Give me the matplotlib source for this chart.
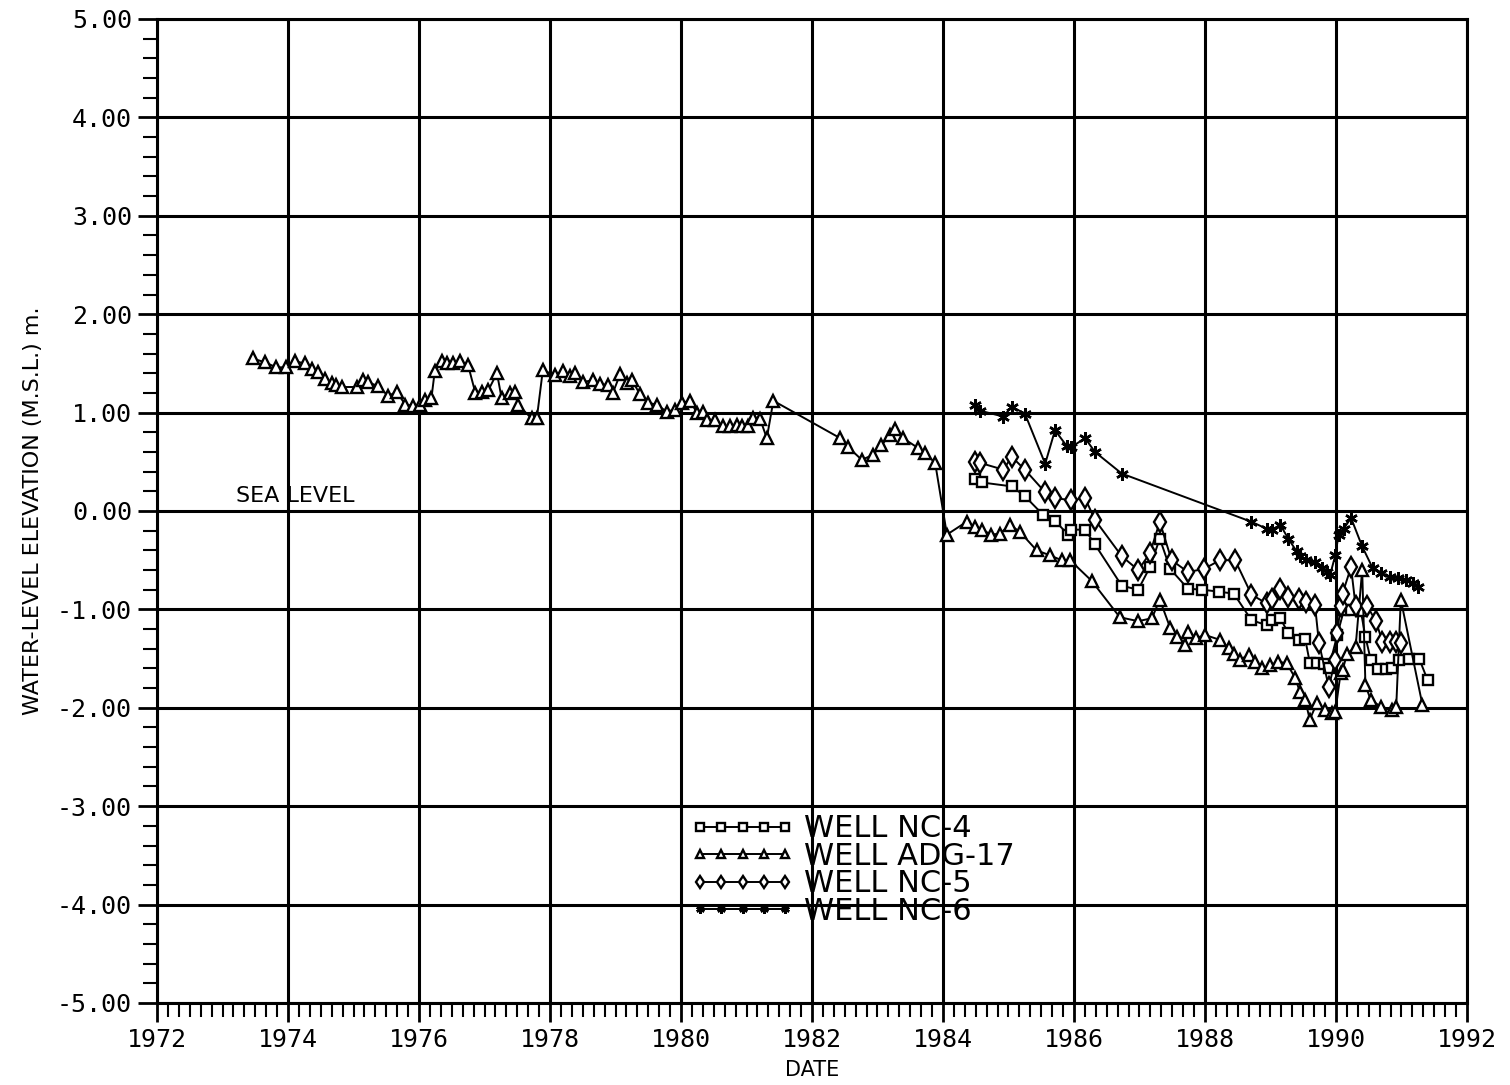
import numpy as np
import matplotlib
matplotlib.use("Agg")
import matplotlib.pyplot as plt
from matplotlib.ticker import MultipleLocator, FuncFormatter

# water levels (m, relative to mean sea level), dates in decimal years
adg17_t = [1973.46, 1973.65, 1973.82, 1973.97, 1974.11, 1974.26, 1974.36, 1974.46, 1974.56, 1974.67,
           1974.74, 1974.82, 1975.05, 1975.15, 1975.22, 1975.37, 1975.53, 1975.66, 1975.79, 1975.91,
           1976.01, 1976.09, 1976.19, 1976.24, 1976.35, 1976.42, 1976.52, 1976.63, 1976.75, 1976.86,
           1976.96, 1977.06, 1977.19, 1977.26, 1977.39, 1977.46, 1977.51, 1977.72, 1977.80, 1977.89,
           1978.08, 1978.20, 1978.30, 1978.38, 1978.50, 1978.66, 1978.76, 1978.89, 1978.96, 1979.07,
           1979.17, 1979.25, 1979.37, 1979.50, 1979.63, 1979.78, 1979.91, 1980.01, 1980.14, 1980.24,
           1980.34, 1980.39, 1980.52, 1980.64, 1980.75, 1980.85, 1980.93, 1981.02, 1981.10, 1981.21,
           1981.31, 1981.41, 1982.43, 1982.55, 1982.76, 1982.93, 1983.06, 1983.19, 1983.27, 1983.39,
           1983.62, 1983.72, 1983.88, 1984.06, 1984.36, 1984.49, 1984.59, 1984.74, 1984.87, 1985.02,
           1985.17, 1985.43, 1985.63, 1985.81, 1985.94, 1986.27, 1986.70, 1986.98, 1987.19, 1987.31,
           1987.47, 1987.57, 1987.69, 1987.74, 1987.87, 1988.00, 1988.23, 1988.36, 1988.44, 1988.54,
           1988.67, 1988.77, 1988.87, 1988.99, 1989.12, 1989.25, 1989.38, 1989.45, 1989.53, 1989.60,
           1989.71, 1989.83, 1989.94, 1989.99, 1990.07, 1990.10, 1990.17, 1990.30, 1990.40, 1990.45,
           1990.53, 1990.69, 1990.86, 1990.92, 1990.99, 1991.32]
adg17_h = [1.55, 1.51, 1.46, 1.46, 1.52, 1.50, 1.44, 1.41, 1.34, 1.30,
           1.28, 1.26, 1.26, 1.33, 1.31, 1.27, 1.17, 1.21, 1.08, 1.07,
           1.08, 1.13, 1.15, 1.42, 1.52, 1.50, 1.50, 1.52, 1.48, 1.20,
           1.21, 1.23, 1.40, 1.15, 1.20, 1.21, 1.08, 0.94, 0.95, 1.43,
           1.38, 1.42, 1.37, 1.40, 1.31, 1.33, 1.29, 1.28, 1.20, 1.39,
           1.30, 1.33, 1.19, 1.10, 1.08, 1.01, 1.03, 1.10, 1.12, 1.00,
           1.01, 0.92, 0.92, 0.86, 0.86, 0.87, 0.86, 0.86, 0.94, 0.93,
           0.74, 1.12, 0.74, 0.65, 0.52, 0.57, 0.67, 0.77, 0.83, 0.74,
           0.64, 0.59, 0.49, -0.24, -0.11, -0.16, -0.19, -0.24, -0.23, -0.14,
           -0.21, -0.40, -0.45, -0.50, -0.50, -0.71, -1.08, -1.12, -1.09, -0.90,
           -1.19, -1.28, -1.36, -1.23, -1.29, -1.26, -1.31, -1.39, -1.45, -1.51,
           -1.46, -1.53, -1.60, -1.57, -1.53, -1.55, -1.70, -1.84, -1.92, -2.12,
           -1.95, -2.02, -2.05, -2.04, -1.65, -1.62, -1.45, -1.38, -0.60, -1.77,
           -1.92, -1.99, -2.02, -1.99, -0.90, -1.97]

nc4_t = [1984.49, 1984.59, 1985.05, 1985.25, 1985.53, 1985.71, 1985.91, 1985.96, 1986.17, 1986.32,
         1986.73, 1986.98, 1987.16, 1987.31, 1987.47, 1987.74, 1987.96, 1988.21, 1988.44, 1988.71,
         1988.94, 1989.02, 1989.15, 1989.27, 1989.43, 1989.53, 1989.60, 1989.71, 1989.81, 1989.89,
         1990.02, 1990.12, 1990.23, 1990.38, 1990.45, 1990.53, 1990.64, 1990.77, 1990.86, 1990.96,
         1991.12, 1991.27, 1991.40]
nc4_h = [0.32, 0.29, 0.25, 0.15, -0.04, -0.10, -0.24, -0.19, -0.19, -0.34,
         -0.76, -0.80, -0.57, -0.28, -0.59, -0.79, -0.80, -0.82, -0.84, -1.11,
         -1.16, -1.11, -1.09, -1.24, -1.31, -1.30, -1.54, -1.55, -1.56, -1.60,
         -1.26, -1.01, -1.01, -1.02, -1.28, -1.51, -1.61, -1.61, -1.60, -1.51,
         -1.50, -1.50, -1.72]

nc5_t = [1984.49, 1984.56, 1984.92, 1985.05, 1985.25, 1985.56, 1985.71, 1985.96, 1986.17, 1986.32,
         1986.73, 1986.98, 1987.16, 1987.31, 1987.49, 1987.74, 1987.98, 1988.23, 1988.46, 1988.71,
         1988.94, 1989.02, 1989.15, 1989.27, 1989.43, 1989.55, 1989.68, 1989.74, 1989.89, 1989.99,
         1990.02, 1990.07, 1990.10, 1990.23, 1990.30, 1990.48, 1990.61, 1990.71, 1990.82, 1990.92,
         1990.99]
nc5_h = [0.50, 0.49, 0.42, 0.55, 0.42, 0.19, 0.13, 0.11, 0.13, -0.09,
         -0.46, -0.60, -0.43, -0.11, -0.50, -0.62, -0.59, -0.50, -0.50, -0.85,
         -0.94, -0.89, -0.79, -0.87, -0.89, -0.92, -0.96, -1.34, -1.79, -1.51,
         -1.24, -0.97, -0.84, -0.57, -0.97, -0.97, -1.12, -1.33, -1.33, -1.33,
         -1.34]

nc6_t = [1984.49, 1984.56, 1984.92, 1985.05, 1985.25, 1985.56, 1985.71, 1985.89, 1985.96, 1986.17,
         1986.32, 1986.73, 1988.71, 1988.94, 1989.02, 1989.15, 1989.27, 1989.40, 1989.45, 1989.55,
         1989.68, 1989.78, 1989.86, 1989.91, 1989.99, 1990.04, 1990.12, 1990.23, 1990.40, 1990.56,
         1990.69, 1990.82, 1990.94, 1991.07, 1991.17, 1991.25]
nc6_h = [1.08, 1.02, 0.96, 1.06, 0.99, 0.48, 0.82, 0.66, 0.65, 0.74,
         0.60, 0.38, -0.11, -0.18, -0.19, -0.14, -0.28, -0.41, -0.46, -0.50,
         -0.52, -0.58, -0.62, -0.65, -0.45, -0.24, -0.18, -0.07, -0.36, -0.58,
         -0.63, -0.67, -0.68, -0.70, -0.73, -0.77]

labels = ["WELL NC-4", "WELL ADG-17", "WELL NC-5", "WELL NC-6"]

plt.rcParams["font.family"] = ["DejaVu Sans"]

fig = plt.figure(figsize=(15.1, 10.85), dpi=100)
ax = fig.add_axes([0.104, 0.0756, 0.8675, 0.9069])

style = dict(color="black", lw=1.4, mfc="white", mec="black", mew=1.7)
ax.plot(nc4_t, nc4_h, marker="s", ms=7, label=labels[0], **style)
ax.plot(adg17_t, adg17_h, marker="^", ms=8, label=labels[1], **style)
ax.plot(nc5_t, nc5_h, marker="d", ms=10, label=labels[2], **style)
ax.plot(nc6_t, nc6_h, marker=(6, 2, 0), ms=9, label=labels[3],
        color="black", lw=1.4, mec="black", mew=1.8)

ax.set_xlim(1972, 1992)
ax.set_ylim(-5, 5)
ax.xaxis.set_major_locator(MultipleLocator(2))
ax.xaxis.set_minor_locator(MultipleLocator(1 / 6))
ax.yaxis.set_major_locator(MultipleLocator(1))
ax.yaxis.set_minor_locator(MultipleLocator(0.2))


def yfmt(v, pos):
    s = f"{abs(v):.2f}"
    return ("-" + s) if v < -1e-9 else s


ax.yaxis.set_major_formatter(FuncFormatter(yfmt))
ax.grid(True, which="major", color="black", lw=2.2)
for sp in ax.spines.values():
    sp.set_linewidth(2.2)

ax.tick_params(axis="both", which="major", direction="out", length=14, width=2,
               labelsize=18, pad=4)
ax.tick_params(axis="both", which="minor", direction="out", length=10, width=1.5)
for lab in ax.get_yticklabels():
    lab.set_family("DejaVu Sans Mono")
for lab in ax.get_xticklabels():
    lab.set_family("DejaVu Sans Mono")

ax.set_xlabel("DATE", fontsize=15, labelpad=6)
ax.set_ylabel("WATER-LEVEL ELEVATION (M.S.L.) m.", fontsize=16, labelpad=10)

ax.text(1973.2, 0.05, "SEA LEVEL", fontsize=16, va="bottom", ha="left")

leg = ax.legend(loc="upper left", bbox_to_anchor=(0.398, 0.204), numpoints=5,
                handlelength=3.4, frameon=False, fontsize=22, labelspacing=-0.05,
                handletextpad=0.3, borderaxespad=0)
for h in leg.legend_handles:
    h.set_markersize(6)

fig.savefig("out.png", dpi=100)
